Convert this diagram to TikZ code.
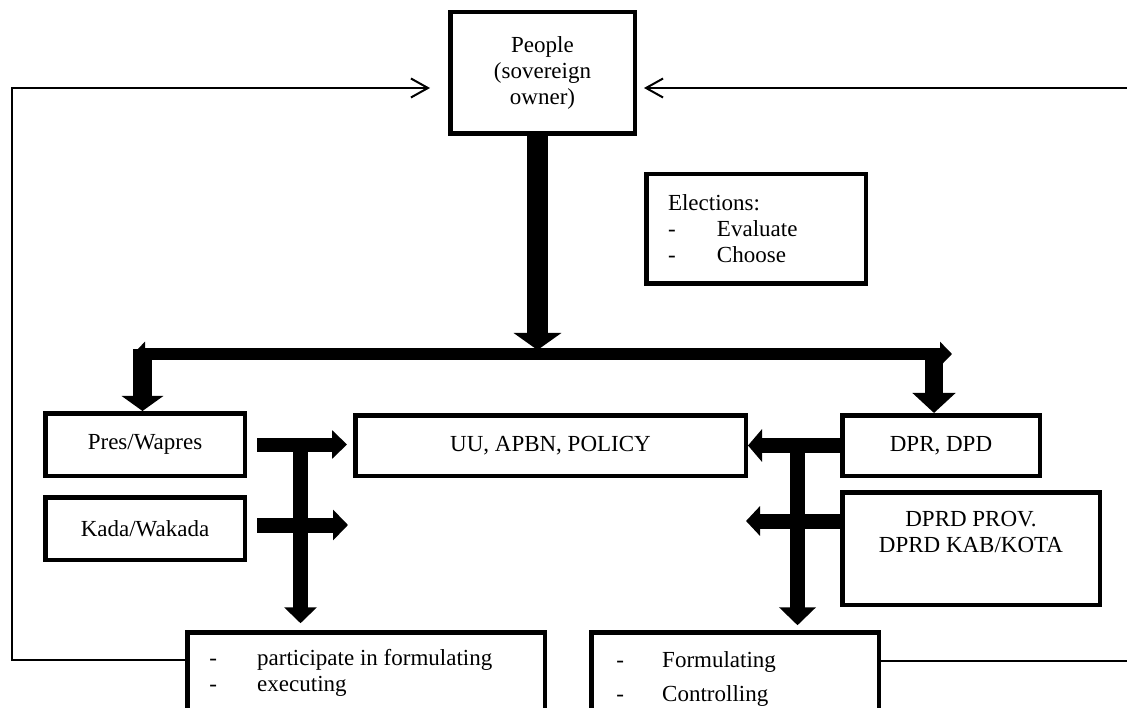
\documentclass[tikz,border=0pt]{standalone}
\usepackage{fontspec}
\setmainfont{Liberation Serif}
\usetikzlibrary{arrows.meta}
\tikzset{
  box/.style={draw, line width=4.5pt, inner sep=0pt, align=center, font=\fontsize{23}{26}\selectfont},
  fb/.style={line width=2pt, -{Straight Barb[length=17pt,width=19pt]}},
}
\begin{document}
\begin{tikzpicture}[x=1pt,y=-1pt]
\path[use as bounding box] (0,0) rectangle (1127,708);
\clip (0,0) rectangle (1127,708);
\fill[white] (0,0) rectangle (1127,708);

% boxes
\node[box, minimum width=184.5pt, minimum height=121.5pt] (people) at (542.5,73) {People\\(sovereign\\owner)};
\node[box, minimum width=219.5pt, minimum height=109.5pt, align=left, text width=176pt] (elec) at (756,229)
  {Elections:\\\makebox[49pt][l]{-}Evaluate\\\makebox[49pt][l]{-}Choose};
\node[box, minimum width=199.5pt, minimum height=62.5pt] (pres) at (145,444.5) {Pres/Wapres};
\node[box, minimum width=199.5pt, minimum height=62.5pt] (kada) at (145,528.5) {Kada/Wakada};
\node[box, minimum width=390.5pt, minimum height=60.5pt] (uu) at (550.5,445.5) {UU, APBN, POLICY};
\node[box, minimum width=197.5pt, minimum height=60.5pt] (dpr) at (941,445.5) {DPR, DPD};
\node[box, minimum width=257.5pt, minimum height=112.5pt] (dprd) at (971,548.5) {DPRD PROV.\\DPRD KAB/KOTA\\\strut};
\node[box, anchor=north west, inner xsep=21.75pt, inner ysep=14.75pt] (exec) at (185.25,630.25)
  {\parbox[c][120pt][t]{314pt}{\strut\makebox[48pt][l]{-}participate in formulating\\\makebox[48pt][l]{-}executing}};
\node[box, anchor=north west, inner xsep=24.75pt, inner ysep=16.75pt] (ctrl) at (589.25,630.25)
  {\parbox[c][120pt][t]{238pt}{\strut\makebox[46pt][l]{-}Formulating\\[8pt]\makebox[46pt][l]{-}Controlling}};

% feedback lines
\coordinate (fbL) at (12,660);
\coordinate (fbLtop) at (12,88);
\draw[fb, shorten >=18pt] (exec.west |- fbL) -- (fbL) -- (fbLtop) -- (people.west |- fbLtop);
\coordinate (fbR) at (1140,661);
\coordinate (fbRtop) at (1140,88);
\draw[fb, shorten >=7pt] (ctrl.east |- fbR) -- (fbR) -- (fbRtop) -- (people.east |- fbRtop);

% thick arrows
\coordinate (jTop) at (537.5,350);
\draw[line width=21pt, -{Triangle[length=17pt,width=47pt]}] (people.south -| jTop) -- (jTop);
\coordinate (jL) at (133,354);
\coordinate (jR) at (952,354);
\draw[line width=12pt, {Triangle[length=12pt,width=24pt]}-{Triangle[length=12pt,width=24pt]}] (jL) -- (jR);
\coordinate (bL) at (142.5,349);
\coordinate (bR) at (934,349);
\draw[line width=19pt, -{Triangle[length=15pt,width=41pt]}] (bL) -- (bL |- pres.north);
\draw[line width=18pt, -{Triangle[length=20pt,width=42pt]}] (bR) -- (bR |- dpr.north);

\draw[line width=14pt, -{Triangle[length=15pt,width=28pt]}, shorten <=10pt, shorten >=6pt] (pres.east) -- (uu.west |- pres.east);
\coordinate (kTip) at (348,525);
\draw[line width=15pt, -{Triangle[length=15pt,width=30pt]}, shorten <=10pt] (kada.east |- kTip) -- (kTip);
\coordinate (vL) at (300.5,444);
\draw[line width=15pt, -{Triangle[length=16pt,width=32pt]}, shorten >=7pt] (vL) -- (vL |- exec.north);

\draw[line width=15pt, -{Triangle[length=14pt,width=32pt]}] (dpr.west) -- (uu.east);
\coordinate (dTip) at (746,521);
\draw[line width=15pt, -{Triangle[length=14pt,width=29pt]}] (dprd.west |- dTip) -- (dTip);
\coordinate (vR) at (797.5,445);
\draw[line width=15pt, -{Triangle[length=18pt,width=36pt]}, shorten >=5pt] (vR) -- (vR |- ctrl.north);
\end{tikzpicture}
\end{document}
